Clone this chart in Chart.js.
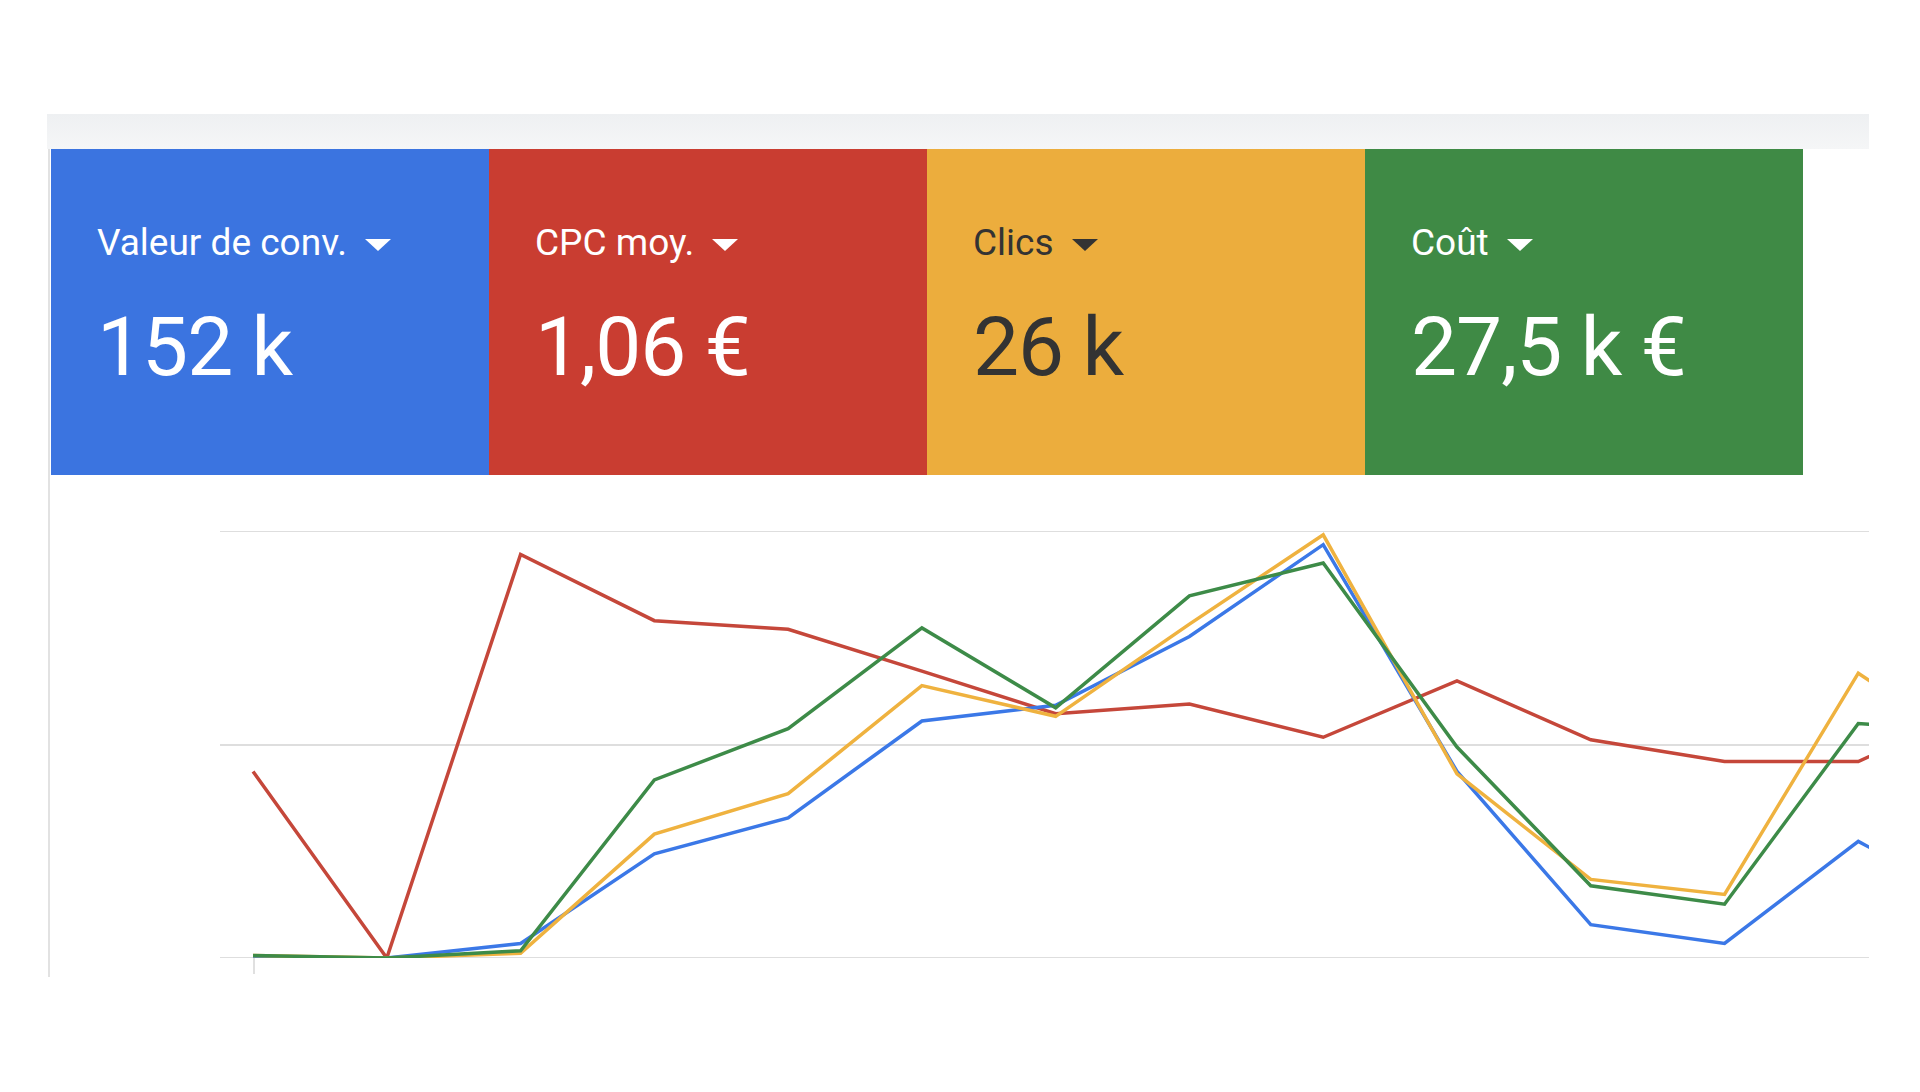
<!DOCTYPE html>
<html><head><meta charset="utf-8">
<script src="https://cdn.jsdelivr.net/npm/chart.js@4"></script>
<style>
body{margin:0;width:1920px;height:1092px;background:#fff;font-family:Roboto,"Open Sans",sans-serif;position:relative;overflow:hidden}
#topbar{position:absolute;left:47px;top:114px;width:1822px;height:35px;background:linear-gradient(to bottom,#eef0f2,#f5f6f7)}
#vline{position:absolute;left:48px;top:149px;width:2px;height:828px;background:#e2e2e2}
.card{position:absolute;top:149px;width:438px;height:326px;color:#fff;box-sizing:border-box;padding-left:46px}
.card .lab{position:absolute;top:222px;font-size:37px;top:222px}
.card .lab{top:72px}
.card .val{position:absolute;top:150px;font-size:82px;letter-spacing:-1px}
.tri{display:inline-block;width:0;height:0;border-left:13px solid transparent;border-right:13px solid transparent;border-top:12px solid currentColor;margin-left:18px;vertical-align:middle}
#wrap{position:absolute;left:220px;top:531px;width:1649px;height:427px}
#tick{position:absolute;left:253px;top:958px;width:2px;height:16px;background:#e0e0e0}
</style></head><body>
<div id="topbar"></div><div id="vline"></div>
<div id="cards"></div>
<div id="wrap"><canvas id="c"></canvas></div>
<div id="tick"></div>
<script>
const cardLabels=["Valeur de conv.","CPC moy.","Clics","Coût"];
const cardValues=["152 k","1,06 €","26 k","27,5 k €"];
const cardColors=["#3b74e0","#c93d31","#ecad3d","#3f8a45"];
const cardText=["#fff","#fff","#333","#fff"];
const points=[0,1,2,3,4,5,6,7,8,9,10,11,12,13];
const red=[43.7,0,94.5,79,77,67.2,57.2,59.5,51.7,64.9,51.1,46,46,60.6];
const blue=[0,0,3.4,24.4,32.8,55.5,59.2,75.3,96.8,43.7,7.8,3.4,27.3,10.6];
const orange=[0.6,0,1.1,29,38.5,63.8,56.6,78.2,99.1,43.1,18.4,14.9,66.7,45.7];
const green=[0.6,0,1.7,41.7,53.7,77.3,58.6,84.8,92.5,49.4,16.9,12.6,54.9,52.9];
const cards=document.getElementById('cards');
cardLabels.forEach((l,i)=>{const d=document.createElement('div');d.className='card';
d.style.left=(51+i*438)+'px';d.style.background=cardColors[i];d.style.color=cardText[i];
d.innerHTML='<div class="lab">'+l+'<span class="tri"></span></div><div class="val">'+cardValues[i]+'</div>';cards.appendChild(d);});
const mk=(v,c)=>({data:points.map((x,i)=>({x,y:v[i]})),borderColor:c,borderWidth:3.5,pointRadius:0,tension:0,clip:{left:0,right:0,top:12,bottom:12}});
new Chart(document.getElementById('c'),{type:'line',
data:{datasets:[mk(green,'#3d8b48'),mk(orange,'#efb23f'),mk(blue,'#3b78e7'),mk(red,'#c5473a')]},
options:{responsive:true,maintainAspectRatio:false,animation:false,layout:{padding:0},
plugins:{legend:{display:false},tooltip:{enabled:false}},
scales:{x:{type:'linear',min:-0.247,max:12.08,display:false},
y:{min:0,max:100,ticks:{display:false,stepSize:50},border:{display:false},grid:{color:'#dedede',lineWidth:2,drawTicks:false}}}}});
</script></body></html>
